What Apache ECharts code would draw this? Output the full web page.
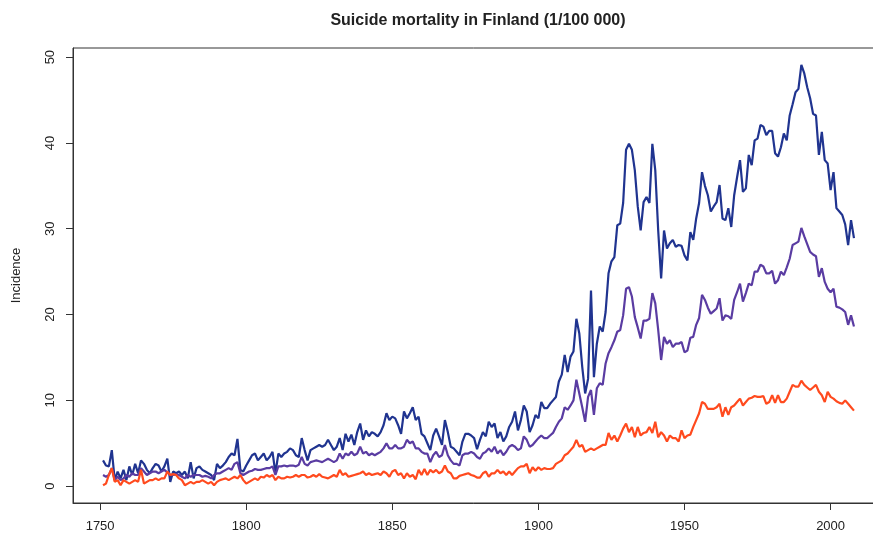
<!DOCTYPE html>
<html>
<head>
<meta charset="utf-8">
<script src="https://cdn.jsdelivr.net/npm/echarts@6/dist/echarts.min.js"></script>
<style>
  html, body { margin: 0; padding: 0; background: #ffffff; }
  #chart { width: 873px; height: 537px; }
</style>
</head>
<body>
<div id="chart"></div>
<script>
// Suicide mortality per 100 000, Finland, yearly from 1751 to 2008
const firstYear = 1751;

const men = [
  3.0, 2.4, 2.3, 4.2, 0.7, 1.7, 0.9, 1.9, 0.7, 2.3,
  1.3, 2.6, 1.5, 3.0, 2.6, 1.9, 1.5, 2.1, 2.6, 2.4,
  1.7, 2.3, 3.2, 0.5, 1.7, 1.5, 1.7, 1.3, 1.7, 0.9,
  2.8, 0.9, 2.1, 2.3, 1.9, 1.7, 1.5, 1.3, 0.7, 2.6,
  2.1, 2.4, 2.8, 3.4, 3.8, 3.6, 5.5, 1.9, 1.7, 2.4,
  3.0, 3.6, 3.8, 3.0, 3.4, 3.8, 3.0, 3.4, 4.0, 1.5,
  3.8, 3.4, 3.8, 4.0, 4.4, 4.2, 3.6, 3.4, 5.6, 4.2,
  3.0, 4.2, 4.4, 4.6, 4.8, 4.6, 4.8, 5.4, 4.8, 4.2,
  4.6, 5.6, 4.2, 6.1, 5.2, 6.0, 4.8, 6.3, 7.3, 5.4,
  6.5, 5.8, 6.3, 6.1, 5.8, 6.3, 7.1, 8.5, 7.7, 8.1,
  7.9, 7.1, 6.1, 8.7, 7.9, 8.5, 9.2, 7.7, 8.1, 6.1,
  5.8, 5.0, 4.2, 5.9, 6.7, 5.8, 4.8, 7.7, 6.3, 4.6,
  4.4, 4.0, 3.6, 5.2, 6.1, 6.1, 5.9, 5.6, 4.3, 5.4,
  6.3, 5.8, 7.5, 6.9, 7.3, 5.6, 6.3, 5.2, 5.8, 6.9,
  7.5, 8.7, 6.5, 7.7, 9.4, 8.7, 6.3, 7.1, 8.3, 7.9,
  9.8, 9.1, 9.1, 9.6, 10.0, 10.4, 12.2, 13.0, 15.3, 13.3,
  15.1, 15.7, 19.5, 17.8, 13.9, 10.8, 12.5, 22.8, 12.7, 16.6,
  18.6, 18.0, 20.3, 24.8, 26.2, 26.7, 30.4, 30.6, 33.0, 39.2,
  39.9, 39.2, 36.8, 32.6, 29.8, 33.1, 33.7, 33.0, 39.9, 36.8,
  29.8, 24.2, 29.8, 27.7, 28.3, 28.7, 27.9, 28.1, 28.0, 26.9,
  26.3, 29.6, 28.7, 31.2, 33.0, 36.6, 35.0, 33.9, 32.0, 32.6,
  33.1, 35.1, 31.2, 31.0, 32.4, 30.2, 33.9, 36.0, 38.0, 34.3,
  34.7, 38.6, 37.4, 40.3, 40.5, 42.1, 41.9, 40.9, 41.4, 41.4,
  38.8, 38.4, 39.5, 41.1, 40.3, 43.2, 44.5, 45.9, 46.3, 49.1,
  48.1, 46.5, 45.2, 43.4, 43.2, 38.6, 41.3, 38.0, 37.6, 34.5,
  36.6, 32.4, 32.0, 31.6, 30.5, 28.1, 31.0, 28.9
];

const total = [
  1.3, 1.1, 1.3, 2.1, 0.7, 1.1, 0.7, 0.9, 1.3, 1.1,
  1.5, 1.3, 1.3, 2.1, 1.7, 1.3, 1.5, 1.7, 1.7, 1.5,
  1.7, 1.9, 1.6, 1.3, 1.3, 1.4, 1.3, 1.1, 0.9, 1.3,
  1.1, 1.3, 1.3, 1.3, 1.1, 1.2, 1.1, 0.9, 1.3, 1.5,
  1.5, 1.7, 1.9, 2.1, 1.9, 2.6, 2.8, 1.5, 1.3, 1.5,
  1.7, 1.8, 2.0, 1.9, 1.9, 2.0, 2.1, 2.1, 2.3, 1.3,
  2.3, 2.3, 2.4, 2.3, 2.4, 2.4, 2.3, 2.5, 3.4, 2.6,
  2.4, 2.8, 2.9, 3.0, 2.9, 2.8, 3.0, 3.2, 3.0, 2.8,
  3.0, 3.8, 3.2, 3.8, 3.6, 4.0, 3.6, 3.8, 4.6, 3.8,
  4.0, 3.6, 3.8, 3.6, 3.8, 4.0, 4.4, 5.0, 4.4, 4.4,
  4.8, 4.4, 4.4, 4.6, 5.4, 5.0, 5.2, 4.4, 4.4, 4.0,
  3.8, 3.8, 2.8, 3.6, 4.0, 3.4, 3.6, 4.8, 3.6, 3.0,
  2.6, 2.6, 2.4, 3.6, 3.8, 3.8, 4.0, 3.8, 3.4, 3.2,
  3.8, 4.0, 4.4, 4.0, 4.6, 3.8, 4.2, 3.6, 4.0, 4.6,
  4.8, 4.6, 4.2, 4.4, 5.8, 5.4, 4.6, 4.8, 5.2, 5.6,
  5.9, 5.6, 5.6, 5.9, 6.2, 6.9, 7.5, 7.9, 9.2, 8.9,
  9.4, 10.0, 12.4, 10.8, 9.2, 7.5, 10.4, 11.2, 8.3, 11.4,
  12.0, 11.8, 14.3, 15.5, 16.2, 17.0, 18.0, 18.2, 19.9, 23.0,
  23.2, 22.1, 19.7, 18.5, 17.2, 19.3, 19.3, 19.5, 22.5, 21.3,
  18.2, 14.7, 17.4, 16.6, 17.0, 16.2, 16.6, 16.6, 16.8, 15.6,
  15.8, 17.3, 17.4, 18.8, 19.6, 22.3, 21.7, 20.8, 20.1, 20.4,
  20.7, 21.9, 19.3, 19.9, 19.8, 19.5, 21.7, 22.6, 23.6, 21.5,
  22.5, 23.6, 23.4, 25.0, 25.0, 25.8, 25.6, 24.8, 24.8, 25.1,
  23.6, 24.0, 25.0, 24.6, 25.5, 26.5, 28.1, 28.3, 28.5, 30.1,
  29.1, 28.2, 27.3, 27.0, 26.8, 24.4, 25.4, 23.8, 23.0, 22.6,
  23.0, 20.9, 20.8, 20.6, 20.3, 18.8, 19.9, 18.6
];

const women = [
  0.1, 0.3, 1.3, 2.1, 0.5, 0.7, 0.1, 0.7, 0.5, 0.3,
  0.5, 0.7, 0.5, 1.9, 0.3, 0.5, 0.7, 0.7, 0.9, 0.7,
  0.9, 0.9, 1.7, 1.3, 1.4, 1.3, 0.9, 0.7, 0.1, 0.3,
  0.5, 0.3, 0.5, 0.5, 0.7, 0.5, 0.3, 0.5, 0.1, 0.5,
  0.7, 0.8, 0.9, 0.7, 0.9, 1.1, 0.9, 1.3, 0.7, 0.3,
  0.5, 0.7, 0.9, 0.7, 1.1, 1.0, 1.3, 1.1, 1.3, 0.7,
  1.1, 0.9, 0.9, 1.1, 1.0, 1.1, 1.3, 1.1, 1.3, 1.3,
  1.0, 1.1, 1.3, 1.1, 1.4, 1.1, 1.0, 0.9, 1.1, 1.3,
  1.1, 1.9, 1.3, 1.5, 1.1, 1.2, 1.3, 1.4, 1.5, 1.7,
  1.3, 1.5, 1.3, 1.4, 1.5, 1.3, 1.7, 1.5, 1.1, 1.7,
  1.9, 1.3, 1.5, 0.9, 1.5, 1.1, 1.3, 0.8, 1.9, 1.3,
  2.0, 1.3, 1.9, 1.6, 1.9, 1.5, 1.7, 2.4, 1.7, 1.5,
  0.9, 0.9, 1.2, 1.3, 1.4, 1.5, 1.3, 1.2, 1.0, 1.0,
  1.5, 1.7, 1.1, 1.5, 1.5, 1.9, 1.5, 1.7, 1.3, 1.7,
  1.3, 1.7, 2.1, 2.3, 2.3, 2.6, 1.5, 2.2, 1.8, 2.2,
  1.9, 2.1, 2.0, 2.0, 2.1, 2.6, 2.8, 3.0, 3.6, 3.8,
  4.2, 4.6, 5.4, 4.6, 4.8, 4.0, 4.2, 4.4, 4.2, 4.4,
  4.6, 4.8, 4.8, 6.2, 5.4, 5.9, 5.2, 5.9, 6.7, 7.3,
  6.3, 6.9, 5.7, 6.9, 5.9, 6.2, 6.3, 6.9, 6.2, 7.5,
  5.7, 6.3, 5.9, 5.2, 5.9, 5.6, 5.6, 5.2, 6.5, 5.6,
  5.9, 6.0, 6.9, 7.7, 8.5, 9.8, 9.6, 9.0, 9.0, 9.0,
  9.2, 9.6, 8.1, 9.2, 8.3, 9.2, 9.4, 9.8, 10.2, 9.4,
  9.8, 10.2, 10.3, 10.5, 10.4, 10.4, 10.5, 9.6, 9.8, 10.6,
  9.7, 10.6, 9.8, 9.8, 10.2, 11.0, 11.8, 11.6, 11.6, 12.3,
  11.8, 11.5, 11.2, 11.5, 11.8, 11.0, 10.6, 9.8, 11.0, 10.4,
  10.2, 9.9, 9.7, 9.6, 10.0, 9.6, 9.2, 8.8
];

const xTicks = [1750, 1800, 1850, 1900, 1950, 2000];
const yTicks = [0, 10, 20, 30, 40, 50];

const FONT = '"Liberation Sans", Arial, Helvetica, sans-serif';
const INK = '#222222';

function pairs(values) {
  return values.map((v, i) => [firstYear + i, v]);
}

// plot range padded 4% beyond the data, as in base R graphics
const lastYear = firstYear + men.length - 1;
const yearSpan = lastYear - firstYear;
const xMin = firstYear - yearSpan * 0.04;
const xMax = lastYear + yearSpan * 0.04;
const yTop = Math.max(...men);
const yMin = 0 - yTop * 0.04;
const yMax = yTop * 1.04;

const chart = echarts.init(document.getElementById('chart'), null, { renderer: 'canvas' });

chart.setOption({
  animation: false,
  backgroundColor: '#ffffff',
  title: {
    text: 'Suicide mortality in Finland (1/100 000)',
    left: 473,
    top: 8,
    textAlign: 'center',
    textStyle: { fontFamily: FONT, fontSize: 16, fontWeight: 'bold', color: INK }
  },
  grid: {
    left: 73,
    top: 48,
    width: 811,
    height: 455,
    outerBoundsMode: 'none',
    containLabel: false,
    show: true,
    borderColor: '#333333',
    borderWidth: 1,
    backgroundColor: 'transparent'
  },
  xAxis: {
    type: 'value',
    min: xMin,
    max: xMax,
    axisLine: { show: true, onZero: false, lineStyle: { color: '#333333', width: 1 } },
    axisTick: { show: true, length: 7, customValues: xTicks, lineStyle: { color: '#333333', width: 1 } },
    axisLabel: {
      customValues: xTicks,
      formatter: (v) => String(v),
      margin: 17,
      fontFamily: FONT,
      fontSize: 13,
      color: INK
    },
    splitLine: { show: false }
  },
  yAxis: {
    type: 'value',
    min: yMin,
    max: yMax,
    name: 'Incidence',
    nameLocation: 'middle',
    nameGap: 50,
    nameTextStyle: { fontFamily: FONT, fontSize: 13, color: INK },
    axisLine: { show: true, onZero: false, lineStyle: { color: '#333333', width: 1 } },
    axisTick: { show: true, length: 7, customValues: yTicks, lineStyle: { color: '#333333', width: 1 } },
    axisLabel: {
      customValues: yTicks,
      formatter: (v) => String(v),
      rotate: 90,
      margin: 16,
      fontFamily: FONT,
      fontSize: 13,
      color: INK
    },
    splitLine: { show: false }
  },
  series: [
    {
      name: 'Men',
      type: 'line',
      data: pairs(men),
      showSymbol: false,
      lineStyle: { color: '#203490', width: 2.2 },
      z: 3
    },
    {
      name: 'Total',
      type: 'line',
      data: pairs(total),
      showSymbol: false,
      lineStyle: { color: '#5a3ca2', width: 2.2 },
      z: 3
    },
    {
      name: 'Women',
      type: 'line',
      data: pairs(women),
      showSymbol: false,
      lineStyle: { color: '#ff4a1e', width: 2.2 },
      z: 3
    }
  ]
});
</script>
</body>
</html>
